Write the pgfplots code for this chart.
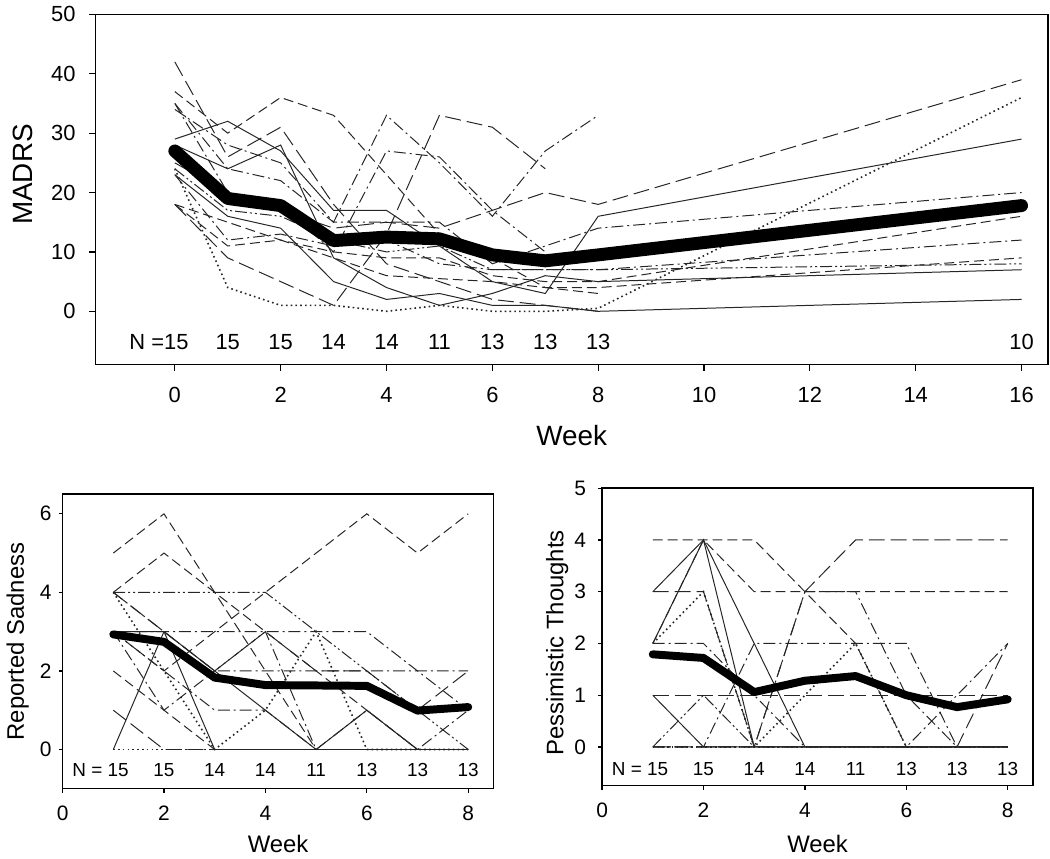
\documentclass[border=0pt]{standalone}
\usepackage{fontspec}
\setmainfont{Liberation Sans}
\usepackage{pgfplots}
\pgfplotsset{compat=1.18}
\begin{document}
\begin{tikzpicture}
\path (0pt,0pt) rectangle (525pt,425.5pt);
\tikzset{
  dA/.style={dash pattern=on 5pt off 2.5pt},
  dB/.style={dash pattern=on 8pt off 3pt},
  dC/.style={dash pattern=on 6pt off 2pt on 1pt off 2pt},
  dD/.style={dash pattern=on 6pt off 1.5pt on 1pt off 1.5pt on 1pt off 1.5pt},
  dE/.style={dash pattern=on 0.8pt off 1.6pt, line width=0.8pt},
}
\pgfplotsset{
  every axis/.append style={scale only axis, axis line style={line width=0.7pt},
    tick align=outside, xtick pos=bottom, ytick pos=left,
    tick style={black, line width=0.6pt},
    /pgf/number format/assume math mode=true, no marks},
  ind/.style={line width=0.5pt, black!85},
}

% ---- MADRS ----
\begin{axis}[at={(45.5pt,245pt)}, anchor=south west, width=478.5pt, height=176pt,
  xmin=-1.5, xmax=16.5, ymin=-9, ymax=50,
  xtick={0,2,...,16}, ytick={0,10,...,50}, major tick length=3pt,
  ticklabel style={font=\fontsize{11}{13}\selectfont},
  xticklabel style={yshift=-5pt}, yticklabel style={xshift=-3.5pt},
  xlabel={Week}, ylabel={MADRS},
  label style={font=\fontsize{14}{16}\selectfont},
  xlabel style={at={(axis description cs:0.5,-0.2017)}, anchor=center},
  ylabel style={at={(axis description cs:-0.0763,0.543)}, anchor=center}]
\addplot[ind,dB] coordinates {(0,25)(1,20)(2,17)(3,14)(4,15)(5,14)(6,17)(7,20)(8,18)(16,39)};
\addplot[ind,dE] coordinates {(0,24)(1,4)(2,1)(3,1)(4,0)(5,1)(6,0)(7,0)(8,0.5)(16,36)};
\addplot[ind] coordinates {(0,29)(1,32)(2,27)(3,17)(4,17)(6,5)(7,3)(8,16)(16,29)};
\addplot[ind,dC] coordinates {(0,35)(1,24)(2,22)(3,15)(4,15)(5,15)(6,8)(8,14)(16,20)};
\addplot[ind,dA] coordinates {(0,18)(1,15)(2,12)(3,10)(4,9)(5,9)(6,6)(7,5)(8,5)(16,16)};
\addplot[ind,dC] coordinates {(0,23)(1,12)(2,13)(3,11)(4,12)(5,8)(6,7)(7,7)(8,7)(16,12)};
\addplot[ind,dA] coordinates {(0,18)(1,11)(2,12)(3,9)(4,6)(6,5)(7,4)(8,4)(16,9)};
\addplot[ind,dD] coordinates {(0,24)(1,17)(2,16)(3,12)(4,10)(5,11)(6,7)(7,7)(8,7)(16,8)};
\addplot[ind] coordinates {(0,28)(1,24)(2,28)(3,9)(4,4)(5,1)(6,3)(7,6)(8,5)(16,7)};
\addplot[ind] coordinates {(0,23)(1,16)(2,14)(3,5)(4,2)(5,3)(6,1)(7,1)(8,0)(16,2)};
\addplot[ind,dB] coordinates {(0,42)(1,26)(2,31)(3,18)(4,8)(6,2)(7,1)(8,0)};
\addplot[ind,dA] coordinates {(0,37)(1,30)(2,36)(3,33)(5,13)(6,9)(7,4)(8,3)};
\addplot[ind,dC] coordinates {(0,34)(1,28)(2,25)(3,15)(4,33)(5,25)(6,16)(7,27)(8,33)};
\addplot[ind,dB] coordinates {(0,18)(1,9)(2,5)(3,1)(4,13)(5,33)(6,31)(7,24)};
\addplot[ind,dC] coordinates {(0,35)(1,20)(2,18)(3,10)(4,27)(5,26)(6,17)(7,10)};
% mean
\addplot[line width=6.5pt, black, line join=round, line cap=round] coordinates {(0,27)(1,19)(2,17.8)(3,11.9)(4,12.5)(5,12.2)(6,9.5)(7,8.5)(8,9.5)(16,17.8)};
\foreach \w/\n in {1/15,2/15,3/14,4/14,5/11,6/13,7/13,8/13,16/10}
  {\edef\tmp{\noexpand\node[font=\noexpand\fontsize{11}{13}\noexpand\selectfont] at (axis cs:\w,-5.2) {\n};}\tmp}
\node[font=\fontsize{11}{13}\selectfont] at (axis cs:-0.3,-5.2) {N =15};
\end{axis}

% ---- Reported Sadness ----
\begin{axis}[at={(29pt,32pt)}, anchor=south west, width=216.5pt, height=148pt,
  xmin=0, xmax=8.5, ymin=-1, ymax=6.5,
  xtick={0,2,...,8}, ytick={0,2,4,6}, major tick length=2pt,
  ticklabel style={font=\fontsize{10.5}{12}\selectfont},
  xticklabel style={yshift=-3pt}, yticklabel style={xshift=0pt},
  xlabel={Week}, ylabel={Reported Sadness},
  label style={font=\fontsize{12}{14}\selectfont},
  xlabel style={at={(axis description cs:0.5,-0.186)}, anchor=center},
  ylabel style={at={(axis description cs:-0.104,0.5)}, anchor=center}]
\addplot[ind,dA] coordinates {(1,5)(2,6)(3,4)(4,2)(5,0)(6,0)(7,0)(8,0)};
\addplot[ind,dA] coordinates {(1,4)(2,5)(3,4)(4,3)(5,2)(6,1)(7,0)(8,0)};
\addplot[ind,dD] coordinates {(1,4)(2,4)(3,4)(4,4)(5,3)(6,2)(7,1)(8,0)};
\addplot[ind,dA] coordinates {(1,3)(2,2)(3,3)(4,4)(5,5)(6,6)(7,5)(8,6)};
\addplot[ind,dC] coordinates {(1,3)(2,3)(3,3)(4,3)(5,3)(6,3)(7,2)(8,1)};
\addplot[ind,dC] coordinates {(1,4)(2,3)(3,2)(4,2)(5,2)(6,2)(7,2)(8,2)};
\addplot[ind] coordinates {(1,0)(2,3)(3,2)(4,1)(5,0)(6,1)(7,0)(8,0)};
\addplot[ind] coordinates {(1,3)(2,3)(3,0)(4,0)(5,0)(6,0)(7,0)(8,0)};
\addplot[ind,dE] coordinates {(1,4)(2,2)(3,0)(4,1)(5,3)(6,0)(7,0)(8,0)};
\addplot[ind,dE] coordinates {(1,0)(2,0)(3,0)(4,0)(5,0)(6,0)(7,0)(8,0)};
\addplot[ind,dA] coordinates {(1,2)(2,1)(3,0)(4,0)(5,0)(6,0)(7,0)(8,0)};
\addplot[ind,dB] coordinates {(1,1)(2,0)(3,0)(4,0)(5,0)(6,0)(7,0)(8,0)};
\addplot[ind,dC] coordinates {(1,3)(2,2)(3,1)(4,1)(5,0)(6,0)(7,0)(8,1)};
\addplot[ind,dB] coordinates {(1,4)(2,3)(3,2)(4,3)(5,2)(6,2)(7,1)(8,2)};
\addplot[ind,dC] coordinates {(1,3)(2,1)(3,2)(4,3)(5,0)(6,1)(7,0)(8,0)};
\addplot[line width=4pt, black, line join=round, line cap=round] coordinates {(1,2.93)(2,2.74)(3,1.83)(4,1.64)(5,1.63)(6,1.62)(7,0.99)(8,1.08)};
\foreach \w/\n in {2/15,3/14,4/14,5/11,6/13,7/13,8/13}
  {\edef\tmp{\noexpand\node[font=\noexpand\fontsize{9.5}{11}\noexpand\selectfont] at (axis cs:\w,-0.52) {\n};}\tmp}
\node[font=\fontsize{9.5}{11}\selectfont] at (axis cs:0.75,-0.52) {N = 15};
\end{axis}

% ---- Pessimistic Thoughts ----
\begin{axis}[at={(300pt,33.5pt)}, anchor=south west, width=216.5pt, height=149.5pt,
  xmin=0, xmax=8.5, ymin=-0.75, ymax=5,
  xtick={0,2,...,8}, ytick={0,1,...,5}, major tick length=2pt,
  ticklabel style={font=\fontsize{10.5}{12}\selectfont},
  xticklabel style={yshift=-3pt}, yticklabel style={xshift=-2.5pt},
  xlabel={Week}, ylabel={Pessimistic Thoughts},
  label style={font=\fontsize{12}{14}\selectfont},
  xlabel style={at={(axis description cs:0.5,-0.194)}, anchor=center},
  ylabel style={at={(axis description cs:-0.104,0.48)}, anchor=center}]
\addplot[ind,dA] coordinates {(1,4)(2,4)(3,4)(4,3)(5,2)(6,0)(7,0)(8,0)};
\addplot[ind,dB] coordinates {(1,0)(2,0)(3,0)(4,3)(5,4)(6,4)(7,4)(8,4)};
\addplot[ind,dA] coordinates {(1,2)(2,4)(3,3)(4,3)(5,3)(6,3)(7,3)(8,3)};
\addplot[ind] coordinates {(1,3)(2,4)(3,2)(4,0)(5,0)(6,0)(7,0)(8,0)};
\addplot[ind] coordinates {(1,2)(2,4)(3,0)(4,0)(5,0)(6,0)(7,0)(8,0)};
\addplot[ind,dB] coordinates {(1,3)(2,3)(3,0)(4,0)(5,0)(6,0)(7,0)(8,2)};
\addplot[ind,dC] coordinates {(1,2)(2,2)(3,1)(4,0)(5,0)(6,0)(7,0)(8,0)};
\addplot[ind,dC] coordinates {(1,0)(2,0)(3,2)(4,2)(5,2)(6,2)(7,0)(8,0)};
\addplot[ind,dB] coordinates {(1,1)(2,1)(3,1)(4,1)(5,1)(6,1)(7,1)(8,1)};
\addplot[ind,dE] coordinates {(1,2)(2,3)(3,0)(4,1)(5,2)(6,0)(7,0)(8,0)};
\addplot[ind,dD] coordinates {(1,0)(2,1)(3,0)(4,0)(5,0)(6,0)(7,0)(8,0)};
\addplot[ind,dC] coordinates {(1,0)(2,0)(3,0)(4,3)(5,3)(6,1)(7,0)(8,0)};
\addplot[ind,dC] coordinates {(1,0)(2,0)(3,0)(4,0)(5,0)(6,0)(7,1)(8,2)};
\addplot[ind] coordinates {(1,1)(2,0)(3,0)(4,0)(5,0)(6,0)(7,0)(8,0)};
\addplot[ind,dE] coordinates {(1,0)(2,0)(3,0)(4,0)(5,0)(6,0)(7,0)(8,0)};
\addplot[line width=4pt, black, line join=round, line cap=round] coordinates {(1,1.79)(2,1.72)(3,1.06)(4,1.28)(5,1.37)(6,1.0)(7,0.77)(8,0.92)};
\foreach \w/\n in {2/15,3/14,4/14,5/11,6/13,7/13,8/13}
  {\edef\tmp{\noexpand\node[font=\noexpand\fontsize{9.5}{11}\noexpand\selectfont] at (axis cs:\w,-0.42) {\n};}\tmp}
\node[font=\fontsize{9.5}{11}\selectfont] at (axis cs:0.75,-0.42) {N = 15};
\end{axis}
\end{tikzpicture}
\end{document}
